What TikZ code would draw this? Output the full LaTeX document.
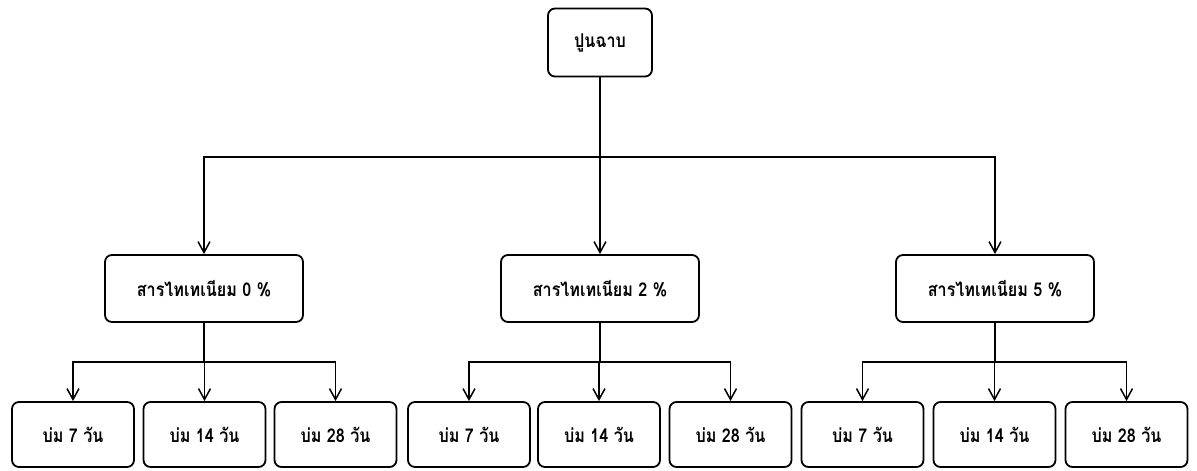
\documentclass[tikz,border=0pt]{standalone}
\usepackage{fontspec}
\newfontfamily\thaifont[Script=Thai, FakeStretch=0.85]{Loma}
\usetikzlibrary{arrows.meta}
\begin{document}
\begin{tikzpicture}[x=1pt,y=-1pt,
  box/.style={draw, line width=1.8pt, rounded corners=7pt, inner sep=0pt, align=center,
    font=\thaifont\bfseries\fontsize{19}{21}\selectfont},
  topbox/.style={box, minimum width=104pt, minimum height=68pt},
  midbox/.style={box, minimum width=198pt, minimum height=67pt},
  botbox/.style={box, minimum width=122pt, minimum height=65pt},
  conn/.style={line width=1.5pt},
  arr/.style={conn, -{Straight Barb[length=11pt,width=12pt,line width=1.5pt]}}]
\useasboundingbox (0,0) rectangle (1197,471);
\node[topbox] (top) at (600,42.5) {ปูนฉาบ};
\node[midbox] (m1) at (204,288.5) {สารไทเทเนียม 0 \%};
\node[midbox] (m2) at (600,288.5) {สารไทเทเนียม 2 \%};
\node[midbox] (m3) at (995,288.5) {สารไทเทเนียม 5 \%};
\node[botbox] (b11) at (73,434.5) {บ่ม 7 วัน};
\node[botbox] (b12) at (204.5,434.5) {บ่ม 14 วัน};
\node[botbox] (b13) at (335.5,434.5) {บ่ม 28 วัน};
\node[botbox] (b21) at (469,434.5) {บ่ม 7 วัน};
\node[botbox] (b22) at (599,434.5) {บ่ม 14 วัน};
\node[botbox] (b23) at (730.5,434.5) {บ่ม 28 วัน};
\node[botbox] (b31) at (862.5,434.5) {บ่ม 7 วัน};
\node[botbox] (b32) at (994.5,434.5) {บ่ม 14 วัน};
\node[botbox] (b33) at (1126.5,434.5) {บ่ม 28 วัน};
\coordinate (j0) at (600,157);
\draw[conn] (top) -- (j0);
\draw[arr] (j0) -| (m1);
\draw[arr] (j0) -- (m2);
\draw[arr] (j0) -| (m3);
\coordinate (j1) at (204,362);
\coordinate (j2) at (600,362);
\coordinate (j3) at (995,362);
\foreach \g in {1,2,3}{
  \draw[conn] (m\g) -- (j\g);
  \draw[arr] (j\g) -| (b\g1);
  \draw[arr] (j\g) -| (b\g2);
  \draw[arr] (j\g) -| (b\g3);
}
\end{tikzpicture}
\end{document}
